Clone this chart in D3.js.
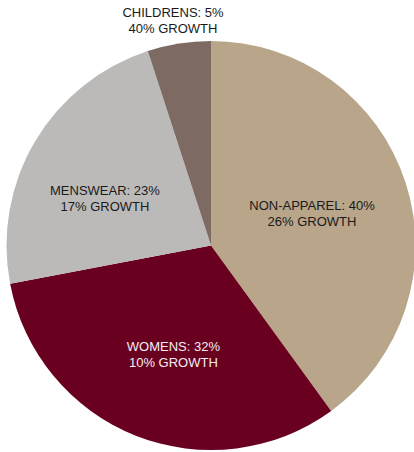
<!DOCTYPE html>
<html>
<head>
<meta charset="utf-8">
<script src="https://cdn.jsdelivr.net/npm/d3@7"></script>
<style>
  html, body { margin: 0; padding: 0; background: #ffffff; }
  svg { display: block; }
  text { font-family: "Liberation Sans", Arial, sans-serif; font-size: 13px; }
</style>
</head>
<body>
<svg id="chart" width="414" height="452"></svg>
<script>
// Sales mix by category, with growth rates
const categories = ["NON-APPAREL", "WOMENS", "MENSWEAR", "CHILDRENS"];
const shares = [40, 32, 23, 5];
const growth = [26, 10, 17, 40];
const colors = ["#B8A58A", "#6A0020", "#BCBAB9", "#7D6B63"];
const textColors = ["#1a1a1a", "#f2eef0", "#1a1a1a", "#1a1a1a"];

const width = 414, height = 452;
const cx = 211, cy = 245.5, radius = 204.5;

const svg = d3.select("#chart");
const g = svg.append("g").attr("transform", `translate(${cx},${cy})`);

const rows = categories.map((c, i) => ({
  name: c, share: shares[i], growth: growth[i],
  color: colors[i], text: textColors[i]
}));

const pie = d3.pie().value(d => d.share).sort(null);
const arc = d3.arc().innerRadius(0).outerRadius(radius);
const arcs = pie(rows);

g.selectAll("path.slice")
  .data(arcs)
  .join("path")
  .attr("class", "slice")
  .attr("d", arc)
  .attr("fill", d => d.data.color);

// Label placement: inside labels sit near the middle of each slice,
// the small slice gets its label above the pie.
const labelArc = d3.arc().innerRadius(radius * 0.54).outerRadius(radius * 0.54);
const nudge = {
  "NON-APPAREL": [-4, 2],
  "WOMENS": [3, 6],
  "MENSWEAR": [-11, 9],
  "CHILDRENS": [0, 0]
};

const labels = g.selectAll("g.label")
  .data(arcs)
  .join("g")
  .attr("class", "label")
  .attr("transform", d => {
    if (d.data.name === "CHILDRENS") {
      return `translate(${-38},${20.5 - cy})`;
    }
    const [x, y] = labelArc.centroid(d);
    const [nx, ny] = nudge[d.data.name];
    return `translate(${x + nx},${y + ny})`;
  });

labels.append("text")
  .attr("text-anchor", "middle")
  .attr("fill", d => d.data.text)
  .attr("y", -3.5)
  .text(d => `${d.data.name}: ${d.data.share}%`);

labels.append("text")
  .attr("text-anchor", "middle")
  .attr("fill", d => d.data.text)
  .attr("y", 12.5)
  .text(d => `${d.data.growth}% GROWTH`);
</script>
</body>
</html>
